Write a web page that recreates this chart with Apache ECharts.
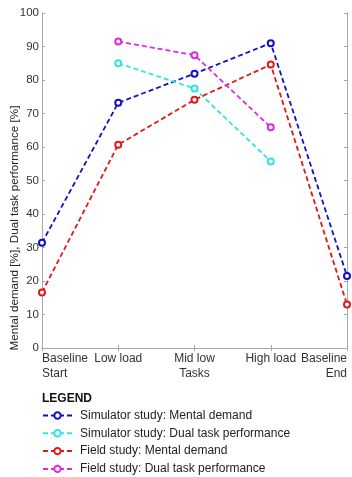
<!DOCTYPE html>
<html>
<head>
<meta charset="utf-8">
<script src="https://cdn.jsdelivr.net/npm/echarts@6/dist/echarts.min.js"></script>
<style>
  html, body { margin: 0; padding: 0; background: #fff; }
  #chart { width: 352px; height: 477px; }
</style>
</head>
<body>
<div id="chart"></div>
<script>
const categories = ['Baseline\nStart', 'Low load', 'Mid low\nTasks', 'High load', 'Baseline\nEnd']
const simMental = [31.4, 73.2, 81.9, 91.0, 21.5]
const simDual = [null, 85.0, 77.5, 55.7, null]
const fieldMental = [16.6, 60.7, 74.1, 84.6, 13.0]
const fieldDual = [null, 91.5, 87.4, 65.9, null]
const seriesNames = [
  'Simulator study: Mental demand',
  'Simulator study: Dual task performance',
  'Field study: Mental demand',
  'Field study: Dual task performance',
]
const yTitle = 'Mental demand [%], Dual task performance [%]'
const colors = ['#1010c8', '#30e4e4', '#e01818', '#e028e0']

const font = 'Liberation Sans, Arial, Helvetica, sans-serif'
const axisGray = '#a8a8a8'

const makeSeries = (name, data, color) => ({
  name,
  type: 'line',
  data,
  symbol: 'emptyCircle',
  symbolSize: 6,
  connectNulls: false,
  lineStyle: { color, width: 1.8, type: [5, 3] },
  itemStyle: { color, borderWidth: 1.6 },
  emphasis: { disabled: true },
})

const chart = echarts.init(document.getElementById('chart'))
chart.setOption({
  animation: false,
  textStyle: { fontFamily: font },
  title: {
    text: 'LEGEND',
    left: 42,
    top: 393,
    padding: 0,
    textStyle: { fontSize: 12, fontWeight: 'bold', color: '#111', fontFamily: font },
  },
  graphic: [
    {
      type: 'text',
      x: 15,
      y: 228,
      rotation: Math.PI / 2,
      style: {
        text: yTitle,
        fill: '#222',
        font: '11.7px ' + font,
        align: 'center',
        verticalAlign: 'middle',
      },
    },
  ],
  legend: {
    orient: 'vertical',
    left: 42,
    top: 409,
    height: 68,
    padding: 0,
    itemWidth: 29,
    itemHeight: 8,
    itemGap: 4.8,
    selectedMode: false,
    textStyle: { fontSize: 12, lineHeight: 13, color: '#222', fontFamily: font, padding: [0, 0, 0, 3] },
    data: seriesNames,
  },
  grid: { left: 42, right: 5, top: 13, bottom: 129, outerBoundsMode: 'none' },
  xAxis: [
    {
      type: 'category',
      data: categories,
      boundaryGap: false,
      axisLine: { lineStyle: { color: axisGray } },
      axisTick: { inside: true, length: 3, lineStyle: { color: axisGray } },
      axisLabel: {
        interval: 0,
        color: '#333',
        fontSize: 12,
        lineHeight: 15,
        margin: 3,
        alignMinLabel: 'left',
        alignMaxLabel: 'right',
      },
      splitLine: { show: false },
    },
    {
      type: 'category',
      data: categories,
      position: 'top',
      boundaryGap: false,
      axisLine: { lineStyle: { color: axisGray } },
      axisTick: { inside: true, length: 3, lineStyle: { color: axisGray } },
      axisLabel: { show: false },
    },
  ],
  yAxis: [
    {
      type: 'value',
      min: 0,
      max: 100,
      interval: 10,
      axisLine: { show: true, lineStyle: { color: axisGray } },
      axisTick: { show: true, inside: true, length: 3, lineStyle: { color: axisGray } },
      axisLabel: { color: '#333', fontSize: 11.5, margin: 3 },
      splitLine: { show: false },
    },
    {
      type: 'value',
      min: 0,
      max: 100,
      interval: 10,
      position: 'right',
      axisLine: { show: true, lineStyle: { color: axisGray } },
      axisTick: { show: true, inside: true, length: 3, lineStyle: { color: axisGray } },
      axisLabel: { show: false },
      splitLine: { show: false },
    },
  ],
  series: [
    makeSeries(seriesNames[0], simMental, colors[0]),
    makeSeries(seriesNames[1], simDual, colors[1]),
    makeSeries(seriesNames[2], fieldMental, colors[2]),
    makeSeries(seriesNames[3], fieldDual, colors[3]),
  ],
})
</script>
</body>
</html>
